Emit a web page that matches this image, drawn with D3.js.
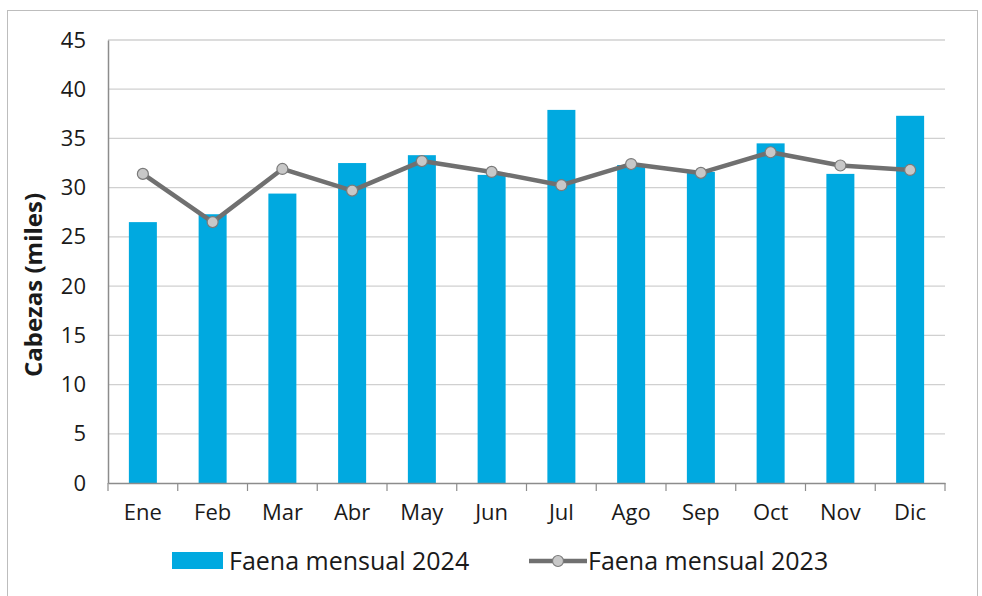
<!DOCTYPE html>
<html>
<head>
<meta charset="utf-8">
<script src="https://cdn.jsdelivr.net/npm/d3@7"></script>
<style>
  body { margin: 0; background: #fff; }
  text { font-family: "Open Sans", sans-serif; fill: #1a1a1a; }
</style>
</head>
<body>
<div class="chart"></div>
<script>
const months = ['Ene','Feb','Mar','Abr','May','Jun','Jul','Ago','Sep','Oct','Nov','Dic'];
const faena2024 = [26.5, 27.3, 29.4, 32.5, 33.3, 31.3, 37.9, 32.3, 31.6, 34.5, 31.4, 37.3];
const faena2023 = [31.4, 26.5, 31.9, 29.7, 32.7, 31.6, 30.25, 32.4, 31.5, 33.6, 32.25, 31.8];
const yTicks = [0, 5, 10, 15, 20, 25, 30, 35, 40, 45];

const W = 982, H = 596;
const margin = ({top: 40, right: 37, bottom: 113, left: 108});
const width = W - margin.left - margin.right;
const height = H - margin.top - margin.bottom;

const svg = d3.select('.chart').append('svg')
    .attr('width', W)
    .attr('height', H);

// outer frame
svg.append('rect')
    .attr('x', 7.5).attr('y', 10.5)
    .attr('width', 970).attr('height', 600)
    .attr('fill', 'none')
    .attr('stroke', '#bdbdbd');

const plot = svg.append('g')
    .attr('transform', `translate(${margin.left},${margin.top})`);

const xBand = d3.scaleBand().domain(months).range([0, width]);

const yScale = d3.scaleLinear()
    .domain([0, 45])
    .range([height, 0]);

// gridlines
plot.append('g')
    .selectAll('line')
    .data(yTicks.filter(d => d > 0))
    .join('line')
    .attr('x1', 0).attr('x2', width)
    .attr('y1', d => yScale(d)).attr('y2', d => yScale(d))
    .attr('stroke', '#d0d0d0')
    .attr('stroke-width', 1.3);

// bars
plot.selectAll('rect.bar')
    .data(faena2024)
    .join('rect')
    .attr('class', 'bar')
    .attr('x', (d, i) => xBand(months[i]) + xBand.bandwidth() / 2 - 14)
    .attr('width', 28)
    .attr('y', d => yScale(d))
    .attr('height', d => height - yScale(d))
    .attr('fill', '#00a9e0');

// y axis
const yAxis = d3.axisLeft(yScale).tickValues(yTicks).tickSize(0).tickPadding(22);
const gy = plot.append('g').call(yAxis);
gy.select('.domain').attr('stroke', '#8c8c8c').attr('stroke-width', 1.5);
gy.selectAll('text').attr('font-size', 22).attr('font-family', '"Open Sans", sans-serif').attr('fill', '#1a1a1a');

// x axis
const xAxis = d3.axisBottom(xBand).tickSize(0).tickPadding(21);
const gx = plot.append('g')
    .attr('transform', `translate(0,${height})`)
    .call(xAxis);
gx.select('.domain').attr('stroke', '#8c8c8c').attr('stroke-width', 1.5);
gx.selectAll('text').attr('font-size', 22).attr('font-family', '"Open Sans", sans-serif').attr('fill', '#1a1a1a');

// category boundary ticks
plot.append('g')
    .selectAll('line')
    .data(d3.range(months.length + 1))
    .join('line')
    .attr('x1', i => i * xBand.step()).attr('x2', i => i * xBand.step())
    .attr('y1', height).attr('y2', height + 8)
    .attr('stroke', '#8c8c8c')
    .attr('stroke-width', 1.2);

// 2023 line
const line = d3.line()
    .x((d, i) => xBand(months[i]) + xBand.bandwidth() / 2)
    .y(d => yScale(d));

plot.append('path')
    .datum(faena2023)
    .attr('d', line)
    .attr('fill', 'none')
    .attr('stroke', '#707070')
    .attr('stroke-width', 4.5)
    .attr('stroke-linejoin', 'round');

plot.selectAll('circle')
    .data(faena2023)
    .join('circle')
    .attr('cx', (d, i) => xBand(months[i]) + xBand.bandwidth() / 2)
    .attr('cy', d => yScale(d))
    .attr('r', 5.5)
    .attr('fill', '#c8c8c8')
    .attr('stroke', '#7a7a7a')
    .attr('stroke-width', 1.2);

// y title
svg.append('text')
    .attr('transform', 'translate(42,285) rotate(-90)')
    .attr('text-anchor', 'middle')
    .attr('font-size', 24)
    .attr('font-weight', 'bold')
    .text('Cabezas (miles)');

// legend
const legend = svg.append('g');
legend.append('rect')
    .attr('x', 172).attr('y', 552)
    .attr('width', 51).attr('height', 17)
    .attr('fill', '#00a9e0');
legend.append('text')
    .attr('x', 229).attr('y', 570)
    .attr('font-size', 25)
    .text('Faena mensual 2024');

legend.append('line')
    .attr('x1', 529).attr('x2', 587)
    .attr('y1', 561).attr('y2', 561)
    .attr('stroke', '#707070')
    .attr('stroke-width', 4.5);
legend.append('circle')
    .attr('cx', 558).attr('cy', 561)
    .attr('r', 5.5)
    .attr('fill', '#c8c8c8')
    .attr('stroke', '#7a7a7a')
    .attr('stroke-width', 1.2);
legend.append('text')
    .attr('x', 588).attr('y', 570)
    .attr('font-size', 25)
    .text('Faena mensual 2023');
</script>
</body>
</html>
